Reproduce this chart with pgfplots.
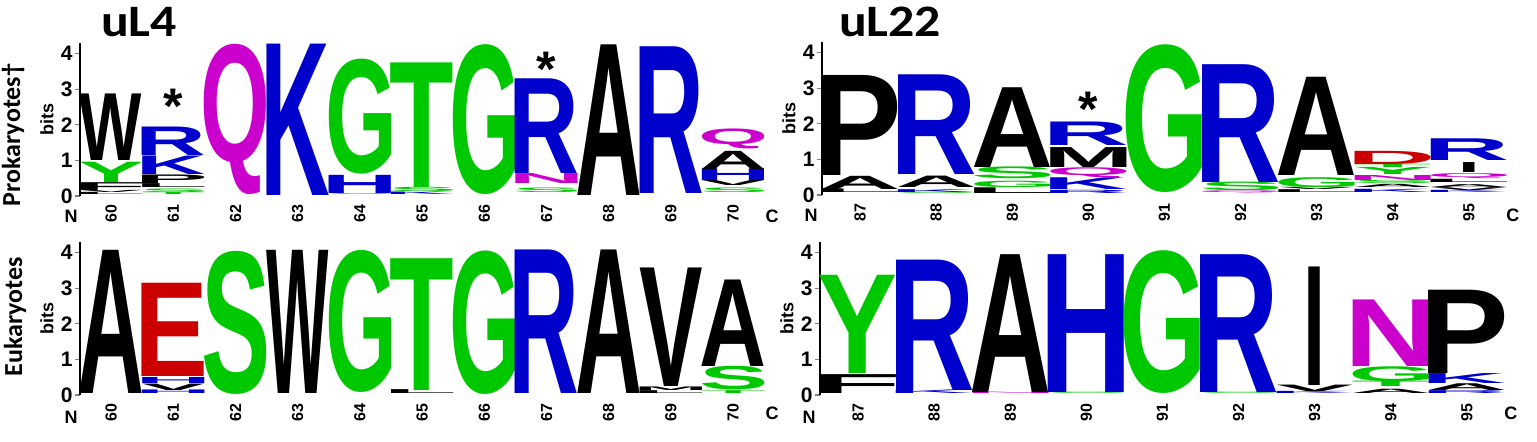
\documentclass[border=0pt]{standalone}
\usepackage{graphicx}
\usepackage{pgfplots}
\pgfplotsset{compat=1.18}
\usepackage{fontspec}
\setmainfont{Liberation Sans}
\newfontfamily\calib{Carlito}

\definecolor{LK}{RGB}{0,0,0}
\definecolor{LB}{RGB}{0,0,204}
\definecolor{LG}{RGB}{0,200,0}
\definecolor{LM}{RGB}{204,0,204}
\definecolor{LR}{RGB}{204,0,0}

\newdimen\bitu \bitu=17.8pt
\newdimen\colu
\newsavebox\lbox
\newdimen\ldim

% letter box trimmed to its ink horizontally
\newcommand\inkletter[1]{\begingroup\bfseries
  \edef\gi{\the\XeTeXcharglyph\expandafter`#1\relax}%
  \kern-\XeTeXglyphbounds1 \gi\relax #1\kern-\XeTeXglyphbounds3 \gi\relax\endgroup}
% zero-size box: letter stands on the point, centred on it
\newcommand\drawletter{%
  \sbox\lbox{\resizebox*{\ww\colu}{\hh\bitu}{\color{\cc}\inkletter{\lett}}}%
  \ldim=\dp\lbox
  \makebox[0pt][c]{\smash{\raise\ldim\box\lbox}}}
% zero-size box: asterisk hangs below the point
\newcommand\drawstar{%
  \sbox\lbox{\fontsize{25}{25}\bfseries *}%
  \ldim=\ht\lbox
  \makebox[0pt][c]{\smash{\lower\ldim\box\lbox}}}

\pgfplotsset{
  logo/.style={
    y=17.8pt, ymin=0, ymax=4.3,
    axis y line=left, axis x line=bottom,
    x axis line style={draw=none},
    y axis line style={-, line width=0.6pt},
    ytick={0,1,2,3,4},
    tick align=outside, major tick length=2.5pt,
    xtick style={draw=none},
    ytick style={line width=0.6pt},
    clip=false,
    /pgf/number format/assume math mode=true,
    yticklabel style={font=\bfseries\fontsize{10.5}{11}\selectfont, inner sep=1pt},
    xticklabel style={rotate=90, anchor=east, font=\bfseries\fontsize{8}{8}\selectfont, inner sep=1.5pt},
    ylabel={bits},
    every axis y label/.style={at={(axis description cs:0,0.5)}, xshift=-16.5pt, rotate=90, anchor=center, font=\bfseries\fontsize{9}{9}\selectfont},
  },
  letters/.style={draw=none, mark=none,
    visualization depends on={value \thisrow{h} \as \hh},
    visualization depends on={value \thisrow{L} \as \lett},
    visualization depends on={value \thisrow{c} \as \cc},
    visualization depends on={value \thisrow{w} \as \ww},
    nodes near coords={\drawletter},
    every node near coord/.style={inner sep=0pt, outer sep=0pt}},
  star/.style={draw=none, mark=none,
    nodes near coords={\drawstar},
    every node near coord/.style={inner sep=0pt, outer sep=0pt}},
}

\begin{document}
\begin{tikzpicture}
\path[use as bounding box] (0,0) rectangle (768.5pt,-221pt);

% titles and row labels
\node[anchor=base west, font=\calib\bfseries\fontsize{22.5}{23}\selectfont] at (47pt,-18.5pt) {\scalebox{1.15}[1]{uL4}};
\node[anchor=base west, font=\calib\bfseries\fontsize{22.5}{23}\selectfont] at (416pt,-18.5pt) {\scalebox{1.15}[1]{uL22}};
\node[rotate=90, font=\calib\bfseries\fontsize{13}{13}\selectfont] at (6.5pt,-67.5pt) {Prokaryotes†};
\node[rotate=90, font=\calib\bfseries\fontsize{13}{13}\selectfont] at (7.5pt,-158.5pt) {Eukaryotes};

% ---------- uL4, prokaryotes
\colu=31.1pt
\begin{axis}[logo, at={(40pt,-98pt)}, anchor=south west, x=31.1pt, xmin=59.5, xmax=70.5, xtick={60,...,70}]
\addplot[letters] table {
x y h L c w
60 0.00 0.06 L LK 1
60 0.06 0.06 V LK 1
60 0.12 0.22 F LK 1
60 0.36 0.57 Y LG 1
60 0.96 1.87 W LK 1
61 0.02 0.06 T LG 1
61 0.08 0.10 S LG 1
61 0.20 0.11 L LK 1
61 0.31 0.24 P LK 1
61 0.57 0.52 K LB 1
61 1.10 0.80 R LB 1
62 0.00 4.22 Q LM 1
63 0.00 4.25 K LB 1
64 0.00 0.03 S LG 1
64 0.03 0.51 H LB 1
64 0.58 3.23 G LG 1
65 0.02 0.07 K LB 1
65 0.09 0.12 S LG 1
65 0.22 3.50 T LG 1
66 0.02 4.21 G LG 1
67 0.07 0.13 S LG 1
67 0.31 0.28 N LM 1
67 0.59 2.66 R LB 1
68 0.00 4.23 A LK 1
69 0.05 4.12 R LB 1
70 0.08 0.13 S LG 1
70 0.26 0.14 V LK 1
70 0.40 0.33 H LB 1
70 0.73 0.51 A LK 1
70 1.29 0.56 Q LM 1
};
\addplot[star] coordinates {(61,2.97) (67,4.0)};
\node[font=\bfseries\fontsize{9}{9}\selectfont, xshift=-4.5pt, yshift=-10pt] at (axis description cs:0,0) {N};
\node[font=\bfseries\fontsize{9}{9}\selectfont, xshift=4pt, yshift=-10pt] at (axis description cs:1,0) {C};
\end{axis}

% ---------- uL22, prokaryotes
\colu=38.05pt
\begin{axis}[logo, at={(411pt,-97.5pt)}, anchor=south west, x=38.05pt, xmin=86.5, xmax=95.5, xtick={87,...,95}]
\addplot[letters] table {
x y h L c w
87 0.04 0.10 L LK 1
87 0.14 0.37 A LK 1
87 0.51 2.81 P LK 1
88 0.01 0.04 S LG 1
88 0.05 0.08 K LB 1
88 0.19 0.32 A LK 1
88 0.56 2.80 R LB 1
89 0.02 0.16 L LK 1
89 0.19 0.18 G LG 1
89 0.42 0.33 S LG 1
89 0.75 2.24 A LK 1
90 0.02 0.09 R LB 1
90 0.14 0.33 K LB 1
90 0.47 0.28 Q LM 1
90 0.75 0.56 M LK 1
90 1.36 0.66 R LB 1
91 0.05 4.15 G LG 1
92 0.03 0.06 Q LM 1
92 0.09 0.24 S LG 1
92 0.33 3.31 R LB 1
93 0.05 0.08 L LK 1
93 0.13 0.06 V LK 1
93 0.19 0.28 G LG 1
93 0.51 2.76 A LK 1
94 0.05 0.09 K LB 1
94 0.19 0.09 A LK 1
94 0.28 0.09 S LG 1
94 0.37 0.14 N LM 1
94 0.55 0.20 Y LG 1
94 0.75 0.09 T LG 1
94 0.84 0.37 D LR 1
95 0.05 0.06 K LB 1
95 0.11 0.08 V LK 1
95 0.19 0.08 A LK 1
95 0.33 0.09 L LK 1
95 0.42 0.14 Q LM 1
95 0.61 0.28 I LK 0.15
95 0.93 0.61 R LB 1
};
\addplot[star] coordinates {(90,2.85)};
\node[font=\bfseries\fontsize{9}{9}\selectfont, xshift=-5.5pt, yshift=-10pt] at (axis description cs:0,0) {N};
\node[font=\bfseries\fontsize{9}{9}\selectfont, xshift=3pt, yshift=-10pt] at (axis description cs:1,0) {C};
\end{axis}

% ---------- uL4, eukaryotes
\colu=31.1pt
\begin{axis}[logo, at={(40pt,-197.5pt)}, anchor=south west, x=31.1pt, xmin=59.5, xmax=70.5, xtick={60,...,70}]
\addplot[letters] table {
x y h L c w
60 0.00 4.02 A LK 1
61 0.00 0.10 H LB 1
61 0.11 0.18 V LK 1
61 0.30 0.17 H LB 1
61 0.49 2.62 E LR 1
62 0.00 4.02 S LG 1
63 0.00 4.02 W LK 1
64 0.03 3.99 G LG 1
65 0.00 0.11 L LK 1
65 0.11 3.70 T LG 1
66 0.00 4.03 G LG 1
67 0.00 4.03 R LB 1
68 0.00 4.03 A LK 1
69 0.02 0.08 L LK 1
69 0.10 0.10 M LK 1
69 0.20 3.33 V LK 1
70 0.02 0.08 T LG 1
70 0.11 0.66 S LG 1
70 0.77 2.43 A LK 1
};
\node[font=\bfseries\fontsize{9}{9}\selectfont, xshift=-4.5pt, yshift=-11pt] at (axis description cs:0,0) {N};
\node[font=\bfseries\fontsize{9}{9}\selectfont, xshift=4pt, yshift=-9pt] at (axis description cs:1,0) {C};
\end{axis}

% ---------- uL22, eukaryotes
\colu=38.05pt
\begin{axis}[logo, at={(410pt,-197.5pt)}, anchor=south west, x=38.05pt, xmin=86.5, xmax=95.5, xtick={87,...,95}]
\addplot[letters] table {
x y h L c w
87 0.00 0.53 F LK 1
87 0.58 2.76 Y LG 1
88 0.00 0.10 K LB 1
88 0.11 3.66 R LB 1
89 0.00 0.04 N LM 1
89 0.04 3.87 A LK 1
90 0.00 0.04 S LG 1
90 0.04 3.87 H LB 1
91 0.02 4.01 G LG 1
92 0.00 0.04 S LG 1
92 0.04 3.87 R LB 1
93 0.00 0.06 K LB 1
93 0.07 0.18 V LK 1
93 0.25 3.33 I LK 0.15
94 0.02 0.12 A LK 1
94 0.20 0.15 T LG 1
94 0.35 0.42 G LG 1
94 0.77 1.87 N LM 1
95 0.02 0.08 R LB 1
95 0.11 0.19 A LK 1
95 0.30 0.28 K LB 1
95 0.58 2.34 P LK 1
};
\node[font=\bfseries\fontsize{9}{9}\selectfont, xshift=-5.5pt, yshift=-11pt] at (axis description cs:0,0) {N};
\node[font=\bfseries\fontsize{9}{9}\selectfont, xshift=3pt, yshift=-9pt] at (axis description cs:1,0) {C};
\end{axis}
\end{tikzpicture}
\end{document}
